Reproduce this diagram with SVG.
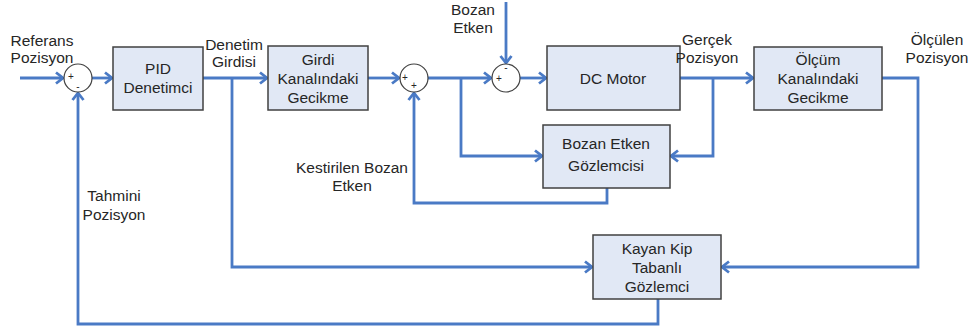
<svg xmlns="http://www.w3.org/2000/svg" width="972" height="333" viewBox="0 0 972 333">
<style>
.box{fill:#e1e8f5;stroke:#404040;stroke-width:1.5}
.sum{fill:#ffffff;stroke:#404040;stroke-width:1.2}
.t{font-family:"Liberation Sans",Arial,sans-serif;font-size:15.5px;fill:#262626;text-anchor:middle}
.s{font-family:"Liberation Sans",Arial,sans-serif;font-size:10px;fill:#262626;text-anchor:middle}
.w{fill:none;stroke:#4a7ac5;stroke-width:2.8;stroke-linejoin:miter}
.a{marker-end:url(#arr)}
</style>
<defs>
<marker id="arr" markerUnits="userSpaceOnUse" markerWidth="14" markerHeight="14" refX="10" refY="7" orient="auto">
<path d="M3,1.5 L10,7 L3,12.5" fill="none" stroke="#4a7ac5" stroke-width="2.8"/>
</marker>
</defs>
<g id="connectors">
<path class="w a" d="M20,78 H63"/>
<path class="w a" d="M92,78 H112"/>
<path class="w a" d="M203,78 H267"/>
<path class="w a" d="M368,78 H399"/>
<path class="w a" d="M428,78 H491"/>
<path class="w a" d="M506,2 V63"/>
<path class="w a" d="M520,78 H546"/>
<path class="w a" d="M680,78 H753"/>
<path class="w a" d="M461,78 V156 H542"/>
<path class="w a" d="M713,78 V156 H671"/>
<path class="w a" d="M607,188 V203 H414 V93"/>
<path class="w a" d="M232,78 V267 H592"/>
<path class="w a" d="M882,78 H918 V267 H722"/>
<path class="w a" d="M658,299 V324 H78 V93"/>
</g>
<g id="sum1"><circle class="sum" cx="78" cy="78" r="14"/><text class="s" x="71" y="80">+</text><text class="s" x="78" y="90">-</text></g>
<g id="sum2"><circle class="sum" cx="414" cy="78" r="14"/><text class="s" x="405" y="81">+</text><text class="s" x="414" y="89">+</text></g>
<g id="sum3"><circle class="sum" cx="506" cy="78" r="14"/><text class="s" x="506" y="71">-</text><text class="s" x="499" y="82">+</text></g>
<g id="pid"><rect class="box" x="113" y="47" width="90" height="63"/><text class="t" x="158" y="74">PID</text><text class="t" x="158" y="93">Denetimci</text></g>
<g id="girdi"><rect class="box" x="268" y="46" width="100" height="64"/><text class="t" x="318" y="65">Girdi</text><text class="t" x="318" y="84">Kanalındaki</text><text class="t" x="318" y="103">Gecikme</text></g>
<g id="dcmotor"><rect class="box" x="547" y="46" width="133" height="64"/><text class="t" x="613" y="84">DC Motor</text></g>
<g id="olcum"><rect class="box" x="754" y="47" width="128" height="63"/><text class="t" x="818" y="65">Ölçüm</text><text class="t" x="818" y="84">Kanalındaki</text><text class="t" x="818" y="103">Gecikme</text></g>
<g id="bozan"><rect class="box" x="543" y="125" width="127" height="63"/><text class="t" x="606" y="149">Bozan Etken</text><text class="t" x="606" y="171">Gözlemcisi</text></g>
<g id="kayan"><rect class="box" x="593" y="235" width="128" height="64"/><text class="t" x="657" y="254">Kayan Kip</text><text class="t" x="657" y="273">Tabanlı</text><text class="t" x="657" y="292">Gözlemci</text></g>
<g id="labels">
<text class="t" x="42" y="46">Referans</text><text class="t" x="42" y="63">Pozisyon</text>
<text class="t" x="234" y="50">Denetim</text><text class="t" x="234" y="67">Girdisi</text>
<text class="t" x="473" y="15">Bozan</text><text class="t" x="473" y="33">Etken</text>
<text class="t" x="707" y="45">Gerçek</text><text class="t" x="707" y="63">Pozisyon</text>
<text class="t" x="937" y="45">Ölçülen</text><text class="t" x="937" y="63">Pozisyon</text>
<text class="t" x="352" y="173">Kestirilen Bozan</text><text class="t" x="352" y="191">Etken</text>
<text class="t" x="114" y="201">Tahmini</text><text class="t" x="114" y="220">Pozisyon</text>
</g>
</svg>
